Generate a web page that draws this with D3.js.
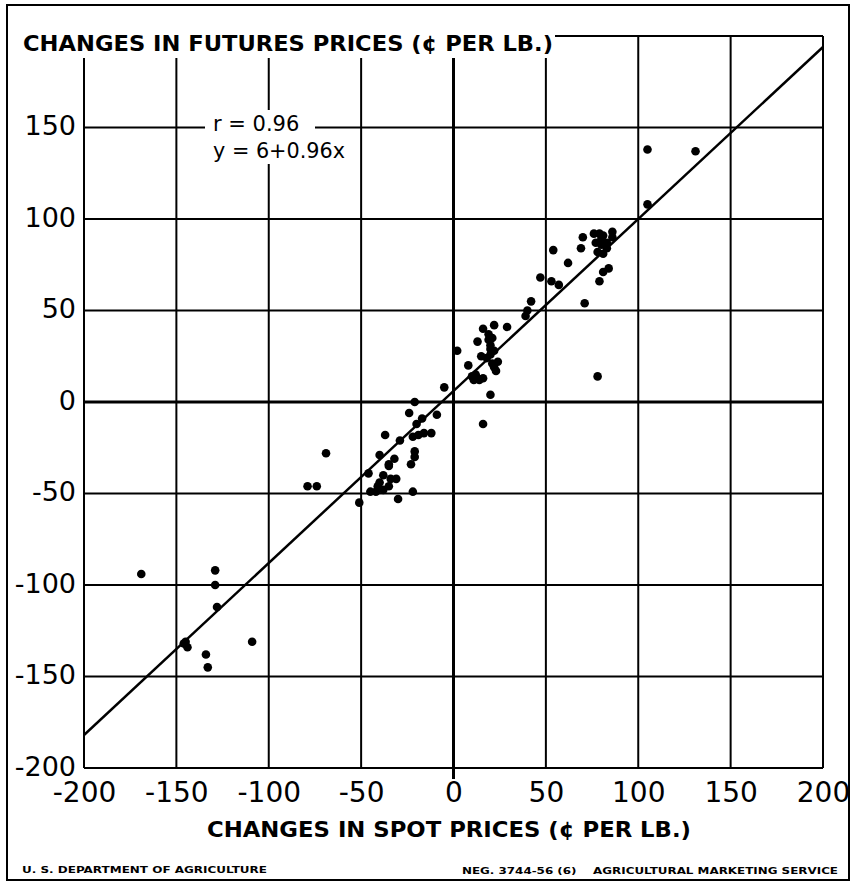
<!DOCTYPE html>
<html>
<head>
<meta charset="utf-8">
<script src="https://cdn.jsdelivr.net/npm/d3@7"></script>
<style>
  html, body { margin: 0; padding: 0; background: #fff; }
  svg { display: block; }
</style>
</head>
<body>
<script>
// ---- data ----
const tickValues = [-200, -150, -100, -50, 0, 50, 100, 150, 200];
const xTickLabels = ["-200", "-150", "-100", "-50", "0", "50", "100", "150", "200"];
const yTickLabels = ["-200", "-150", "-100", "-50", "0", "50", "100", "150", ""];

// changes in spot prices (x) and futures prices (y), cents per lb.
const spotChange = [
  -169, -129, -129, -128, -145, -144, -146, -134, -133, -109,
  -69, -79, -74,
  -21, -24, -9, -17, -20, -37, -29, -22, -19, -16, -12,
  -21, -21, -40, -32, -35, -23, -35, -46, -38, -34, -31,
  -40, -35, -41, -45, -42, -38, -22, -30, -51,
  -5, 2, 8, 10, 13, 16, 11, 15, 13, 16, 22, 19, 20, 20, 21, 23, 19, 22, 24, 18, 29, 20, 16,
  21, 22, 20, 14, 12,
  40, 39, 42, 71, 78, 105, 131, 105,
  54, 70, 69, 62, 47, 53, 57, 79, 81, 84,
  76, 79, 86, 86, 77, 80, 78, 81, 83, 81,
  80, 83
];
const futuresChange = [
  -94, -92, -100, -112, -131, -134, -132, -138, -145, -131,
  -28, -46, -46,
  0, -6, -7, -9, -12, -18, -21, -19, -18, -17, -17,
  -27, -30, -29, -31, -34, -34, -35, -39, -40, -42, -42,
  -44, -46, -46, -49, -49, -48, -49, -53, -55,
  8, 28, 20, 14, 13, 13, 12, 25, 33, 40, 42, 37, 31, 26, 21, 17, 34, 28, 22, 24, 41, 4, -12,
  35, 19, 29, 12, 15,
  50, 47, 55, 54, 14, 138, 137, 108,
  83, 90, 84, 76, 68, 66, 64, 66, 71, 73,
  92, 92, 93, 90, 87, 86, 82, 81, 87, 91,
  89, 84
];

// drawn regression line endpoints (as plotted)
const lineX = [-200, 200];
const lineY = [-182, 194];

const yAxisTitle = "CHANGES IN FUTURES PRICES (¢ PER LB.)";
const xAxisTitle = "CHANGES IN SPOT PRICES (¢ PER LB.)";
const annot = ["r = 0.96", "y = 6+0.96x"];
const footLeft = "U. S. DEPARTMENT OF AGRICULTURE";
const footRight = "NEG. 3744-56 (6)    AGRICULTURAL MARKETING SERVICE";

// ---- drawing ----
const W = 851, H = 883;
const svg = d3.select("body").append("svg").attr("width", W).attr("height", H);
svg.append("rect").attr("width", W).attr("height", H).attr("fill", "#fff");

const x = d3.scaleLinear().domain([-200, 200]).range([84, 823]);
const y = d3.scaleLinear().domain([-200, 200]).range([768, 36]);

// outer frame
svg.append("rect").attr("x", 7).attr("y", 5).attr("width", 842).attr("height", 875)
  .attr("fill", "none").attr("stroke", "#000").attr("stroke-width", 2);

const font = "'DejaVu Sans', sans-serif";

// grid
const grid = svg.append("g");
grid.selectAll("line.v").data(tickValues).join("line")
  .attr("x1", d => x(d)).attr("x2", d => x(d))
  .attr("y1", y(200)).attr("y2", d => d === 0 ? y(-200) + 11 : y(-200))
  .attr("stroke", "#000").attr("stroke-width", d => d === 0 ? 3 : 2);
grid.selectAll("line.h").data(tickValues).join("line")
  .attr("y1", d => y(d)).attr("y2", d => y(d))
  .attr("x1", x(-200)).attr("x2", x(200))
  .attr("stroke", "#000").attr("stroke-width", d => d === 0 ? 3 : 2);

// regression line
const clipId = "plotclip";
svg.append("clipPath").attr("id", clipId).append("rect")
  .attr("x", x(-200)).attr("y", y(200)).attr("width", x(200) - x(-200)).attr("height", y(-200) - y(200));
svg.append("line")
  .attr("x1", x(lineX[0])).attr("y1", y(lineY[0]))
  .attr("x2", x(lineX[1])).attr("y2", y(lineY[1]))
  .attr("stroke", "#000").attr("stroke-width", 2.5)
  .attr("clip-path", `url(#${clipId})`);

// points
svg.append("g").selectAll("circle").data(spotChange.map((d, i) => [d, futuresChange[i]])).join("circle")
  .attr("cx", d => x(d[0])).attr("cy", d => y(d[1])).attr("r", 4.3).attr("fill", "#000");

// annotation with white background
const ag = svg.append("g");
ag.append("rect").attr("x", 205).attr("y", 110).attr("width", 110).attr("height", 24).attr("fill", "#fff");
ag.append("rect").attr("x", 205).attr("y", 134).attr("width", 145).attr("height", 30).attr("fill", "#fff");
ag.append("text").attr("x", 213).attr("y", 131).text(annot[0])
  .attr("font-family", font).attr("font-size", 21).attr("fill", "#000");
ag.append("text").attr("x", 213).attr("y", 158).text(annot[1])
  .attr("font-family", font).attr("font-size", 21).attr("fill", "#000")
  .attr("textLength", 132).attr("lengthAdjust", "spacingAndGlyphs");

// y-axis title with white background covering the top of grid
svg.append("rect").attr("x", 15).attr("y", 28).attr("width", 540).attr("height", 30).attr("fill", "#fff");
svg.append("text").attr("x", 23).attr("y", 51).text(yAxisTitle)
  .attr("font-family", font).attr("font-weight", "bold").attr("font-size", 21)
  .attr("textLength", 530).attr("lengthAdjust", "spacingAndGlyphs").attr("fill", "#000");

// axes (labels only)
const yAxis = d3.axisLeft(y).tickValues(tickValues).tickSize(0).tickPadding(8)
  .tickFormat((d, i) => yTickLabels[i]);
const gy = svg.append("g").attr("transform", `translate(${x(-200)},0)`).call(yAxis);
gy.select(".domain").remove();
gy.selectAll("text").attr("font-family", font).attr("font-size", 27).attr("fill", "#000").attr("dy", "0.27em");

const xAxis = d3.axisBottom(x).tickValues(tickValues).tickSize(0).tickPadding(14)
  .tickFormat((d, i) => xTickLabels[i]);
const gx = svg.append("g").attr("transform", `translate(0,${y(-200)})`).call(xAxis);
gx.select(".domain").remove();
gx.selectAll("text").attr("font-family", font).attr("font-size", 28).attr("fill", "#000");

// x-axis title
svg.append("text").attr("x", 207).attr("y", 837).text(xAxisTitle)
  .attr("font-family", font).attr("font-weight", "bold").attr("font-size", 22)
  .attr("textLength", 484).attr("lengthAdjust", "spacingAndGlyphs").attr("fill", "#000");

// footnotes
svg.append("text").attr("x", 22).attr("y", 873).text(footLeft)
  .attr("font-family", font).attr("font-weight", "bold").attr("font-size", 8.5)
  .attr("textLength", 245).attr("lengthAdjust", "spacingAndGlyphs").attr("fill", "#000");
svg.append("text").attr("x", 462).attr("y", 874).text(footRight)
  .attr("font-family", font).attr("font-weight", "bold").attr("font-size", 8.5)
  .attr("textLength", 376).attr("lengthAdjust", "spacingAndGlyphs").attr("fill", "#000")
  .attr("xml:space", "preserve").style("white-space", "pre");
</script>
</body>
</html>
